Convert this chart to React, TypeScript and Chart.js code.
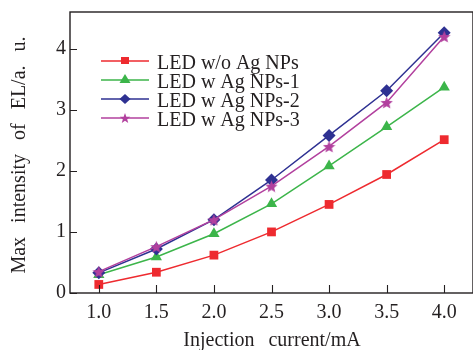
import React, { useEffect, useRef } from "react";
import { Chart, registerables } from "chart.js";

Chart.register(...registerables);

const currents = [1.0, 1.5, 2.0, 2.5, 3.0, 3.5, 4.0];
const ledWithout = [0.14, 0.34, 0.62, 1.0, 1.45, 1.94, 2.51];
const ledNPs1 = [0.3, 0.59, 0.97, 1.46, 2.08, 2.72, 3.37];
const ledNPs2 = [0.33, 0.72, 1.2, 1.85, 2.58, 3.31, 4.26];
const ledNPs3 = [0.35, 0.76, 1.2, 1.75, 2.4, 3.12, 4.2];
const seriesNames = ["LED w/o Ag NPs", "LED w Ag NPs-1", "LED w Ag NPs-2", "LED w Ag NPs-3"];
const xTicks = [1.0, 1.5, 2.0, 2.5, 3.0, 3.5, 4.0];
const yTicks = [0, 1, 2, 3, 4];
const xTitle = "Injection current/mA";
const yTitle = "Max intensity of EL/a. u.";

const RED = "#ee2a2f";
const GREEN = "#3cb54a";
const BLUE = "#2e3192";
const MAGENTA = "#b2409e";
const INK = "#231f20";
const FONT = "'Liberation Serif', 'Times New Roman', serif";

function starPath(ctx: CanvasRenderingContext2D, cx: number, cy: number, ro: number, ri: number) {
  ctx.beginPath();
  for (let i = 0; i < 10; i++) {
    const r = i % 2 === 0 ? ro : ri;
    const a = -Math.PI / 2 + (i * Math.PI) / 5;
    const px = cx + r * Math.cos(a);
    const py = cy + r * Math.sin(a);
    if (i === 0) ctx.moveTo(px, py);
    else ctx.lineTo(px, py);
  }
  ctx.closePath();
}

function makeStar(size: number, color: string) {
  const c = document.createElement("canvas");
  c.width = size;
  c.height = size;
  const ctx = c.getContext("2d")!;
  ctx.fillStyle = color;
  starPath(ctx, size / 2, size / 2 + 0.8, size / 2, size / 4.6);
  ctx.fill();
  return c;
}

export default function App() {
  const ref = useRef<HTMLCanvasElement | null>(null);

  useEffect(() => {
    if (!ref.current) return;
    const star = makeStar(13, MAGENTA);

    const decor = {
      id: "decor",
      afterDraw(chart: any) {
        const ctx: CanvasRenderingContext2D = chart.ctx;
        const a = chart.chartArea;
        const xs = chart.scales.x;
        const ys = chart.scales.y;
        ctx.save();
        // box
        ctx.strokeStyle = INK;
        ctx.lineWidth = 1.4;
        ctx.strokeRect(a.left, a.top, a.right - a.left, a.bottom - a.top);
        // inward ticks
        ctx.lineWidth = 1.1;
        ctx.beginPath();
        xTicks.forEach((v) => {
          const px = Math.round(xs.getPixelForValue(v)) + 0.5;
          ctx.moveTo(px, a.bottom);
          ctx.lineTo(px, a.bottom - 8);
        });
        yTicks.forEach((v) => {
          const py = Math.round(ys.getPixelForValue(v)) + 0.5;
          ctx.moveTo(a.left, py);
          ctx.lineTo(a.left + 7, py);
        });
        ctx.stroke();

        // legend
        const rows = [61, 80, 99, 118];
        const colors = [RED, GREEN, BLUE, MAGENTA];
        ctx.font = `20px ${FONT}`;
        ctx.textBaseline = "alphabetic";
        ctx.textAlign = "left";
        rows.forEach((ry, i) => {
          ctx.strokeStyle = colors[i];
          ctx.lineWidth = 1.5;
          ctx.beginPath();
          ctx.moveTo(101, ry);
          ctx.lineTo(149, ry);
          ctx.stroke();
          ctx.fillStyle = colors[i];
          const cx = 125;
          ctx.beginPath();
          if (i === 0) {
            ctx.rect(cx - 4, ry - 4, 8, 7);
          } else if (i === 1) {
            ctx.moveTo(cx, ry - 6);
            ctx.lineTo(cx + 5.5, ry + 3);
            ctx.lineTo(cx - 5.5, ry + 3);
            ctx.closePath();
          } else if (i === 2) {
            ctx.moveTo(cx, ry - 5);
            ctx.lineTo(cx + 5.5, ry);
            ctx.lineTo(cx, ry + 5);
            ctx.lineTo(cx - 5.5, ry);
            ctx.closePath();
          } else {
            starPath(ctx, cx, ry + 0.5, 5.5, 2.3);
          }
          ctx.fill();
          ctx.fillStyle = INK;
          ctx.fillText(seriesNames[i], 157, ry + 7.5);
        });

        // titles
        ctx.fillStyle = INK;
        ctx.font = `20px ${FONT}`;
        (ctx as any).wordSpacing = "9px";
        ctx.textAlign = "center";
        ctx.textBaseline = "alphabetic";
        ctx.fillText(xTitle, 272, 346);
        ctx.save();
        ctx.translate(25, 155);
        ctx.rotate(-Math.PI / 2);
        ctx.fillText(yTitle, 0, 0);
        ctx.restore();
        (ctx as any).wordSpacing = "0px";
        ctx.restore();
      },
    };

    const mk = (label: string, data: number[], color: string, style: any, radius: number, order: number) => ({
      label,
      data: currents.map((x, i) => ({ x, y: data[i] })),
      borderColor: color,
      backgroundColor: color,
      borderWidth: 1.5,
      pointStyle: style,
      pointRadius: radius,
      pointBorderWidth: 0,
      pointBackgroundColor: color,
      pointBorderColor: color,
      order,
      tension: 0,
    });

    const chart = new Chart(ref.current, {
      type: "line",
      data: {
        datasets: [
          mk(seriesNames[0], ledWithout, RED, "rect", 6.2, 3),
          mk(seriesNames[1], ledNPs1, GREEN, "triangle", 6.5, 2),
          mk(seriesNames[2], ledNPs2, BLUE, "rectRot", 6.5, 1),
          mk(seriesNames[3], ledNPs3, MAGENTA, star, 6.5, 0),
        ] as any,
      },
      options: {
        animation: false,
        responsive: false,
        devicePixelRatio: 1,
        layout: { autoPadding: false, padding: { top: 12, right: 0, left: 0, bottom: 0 } },
        plugins: { legend: { display: false }, tooltip: { enabled: false } },
        scales: {
          x: {
            type: "linear",
            min: 0.75,
            max: 4.25,
            grid: { display: false, drawTicks: false },
            border: { display: false },
            afterBuildTicks: (s: any) => {
              s.ticks = xTicks.map((v) => ({ value: v }));
            },
            afterFit: (s: any) => {
              s.height = 57;
              s.paddingLeft = 0;
              s.paddingRight = 0;
              s.paddingTop = 0;
              s.paddingBottom = 0;
            },
            ticks: {
              color: INK,
              padding: 8,
              maxRotation: 0,
              font: { family: FONT, size: 20 },
              callback: (v: any) => Number(v).toFixed(1),
            },
          },
          y: {
            type: "linear",
            min: 0,
            max: 4.6,
            grid: { display: false, drawTicks: false },
            border: { display: false },
            afterBuildTicks: (s: any) => {
              s.ticks = yTicks.map((v) => ({ value: v }));
            },
            afterFit: (s: any) => {
              s.width = 70;
              s.paddingLeft = 0;
              s.paddingRight = 0;
              s.paddingTop = 0;
              s.paddingBottom = 0;
            },
            ticks: {
              color: INK,
              padding: 4,
              font: { family: FONT, size: 20 },
              callback: (v: any) => String(v),
            },
          },
        },
      } as any,
      plugins: [decor],
    });
    return () => chart.destroy();
  }, []);

  return (
    <div style={{ position: "absolute", left: 0, top: 0, width: 473, height: 350, background: "#fff" }}>
      <canvas ref={ref} width={473} height={350} style={{ width: 473, height: 350, display: "block" }} />
    </div>
  );
}
